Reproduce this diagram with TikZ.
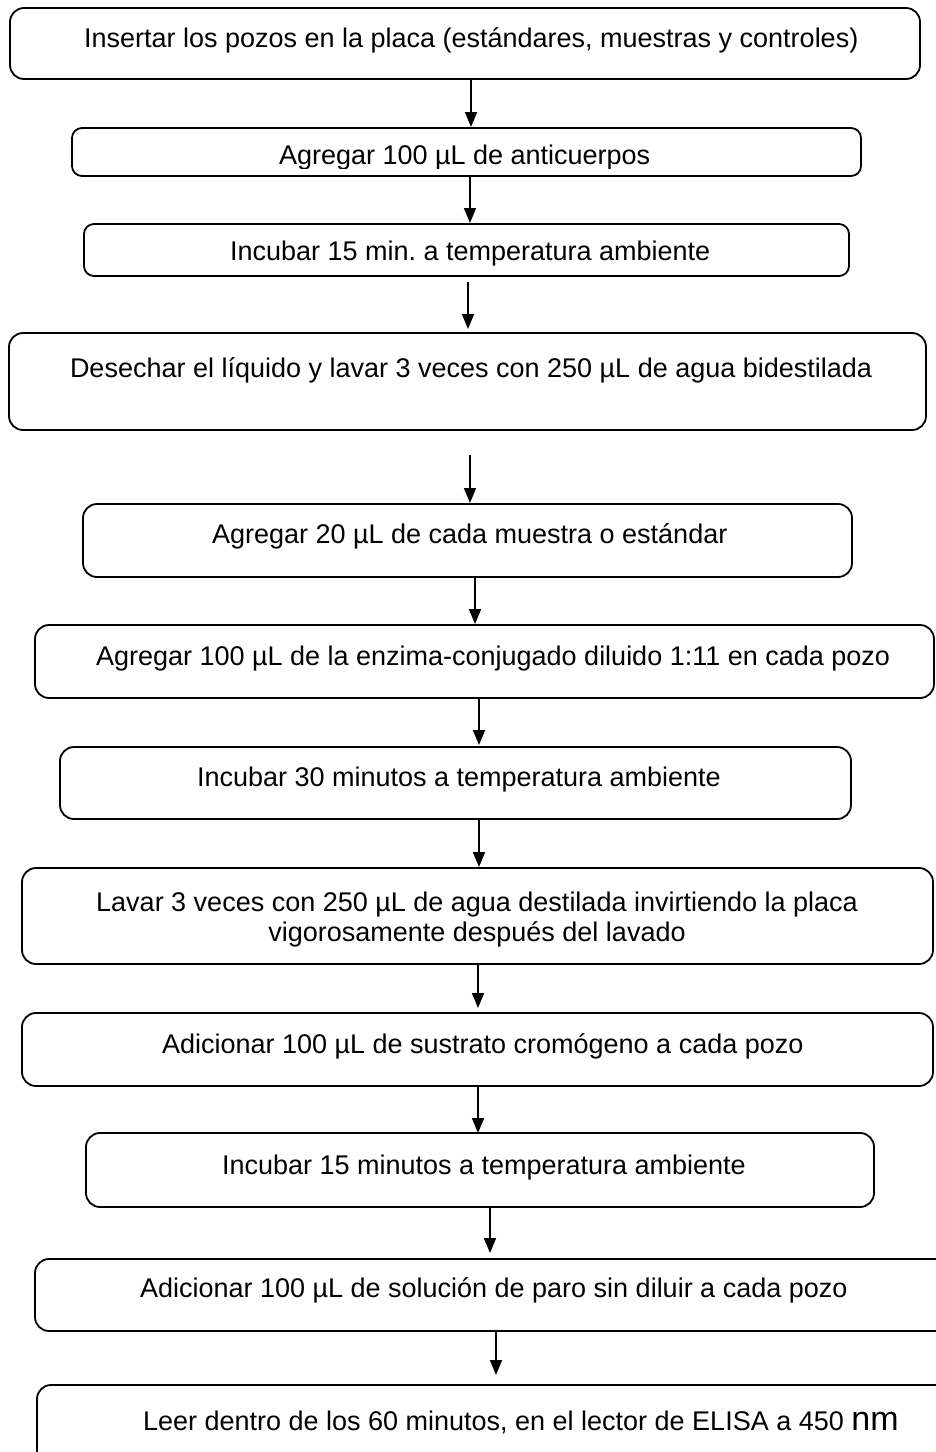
\documentclass[tikz,border=0pt]{standalone}
\usepackage{fontspec}
\setmainfont{Liberation Sans}
\usetikzlibrary{arrows.meta}
\frenchspacing
\tikzset{
  stepbox/.style={draw=black, line width=1.8pt, rounded corners=10pt, inner sep=0pt, outer sep=0pt, fill=none},
  bigbox/.style={stepbox, rounded corners=14pt},
  steptext/.style={anchor=base west, inner sep=0pt, outer sep=0pt, font=\fontsize{27}{30}\selectfont},
  arr/.style={line width=1.7pt, -{Triangle[length=15pt,width=12pt]}}
}
\begin{document}
\begin{tikzpicture}[x=1pt,y=-1pt]
\useasboundingbox (0,0) rectangle (936,1452);
\clip (0,0) rectangle (936,1452);
% boxes
\node[bigbox, minimum width=910pt, minimum height=71pt] (b1) at (465,43.5) {};
\node[stepbox, minimum width=789pt, minimum height=48pt] (b2) at (466.5,152) {};
\node[stepbox, minimum width=765pt, minimum height=52pt] (b3) at (466.5,250) {};
\node[bigbox, minimum width=917pt, minimum height=97pt] (b4) at (467.5,381.5) {};
\node[bigbox, minimum width=769pt, minimum height=73pt] (b5) at (467.5,540.5) {};
\node[bigbox, minimum width=899pt, minimum height=73pt] (b6) at (484.5,661.5) {};
\node[bigbox, minimum width=791pt, minimum height=72pt] (b7) at (455.5,783) {};
\node[bigbox, minimum width=911pt, minimum height=96pt] (b8) at (477.5,916) {};
\node[bigbox, minimum width=911pt, minimum height=73pt] (b9) at (477.5,1049.5) {};
\node[bigbox, minimum width=788pt, minimum height=74pt] (b10) at (480,1170) {};
\node[bigbox, minimum width=925pt, minimum height=72pt] (b11) at (497.5,1295) {};
\node[bigbox, minimum width=923pt, minimum height=90pt] (b12) at (498.5,1430) {};
% texts
\node[steptext] (t1) at (84,47) {Insertar los pozos en la placa (estándares, muestras y controles)};
\begin{scope}
\clip (0,0) rectangle (936,168);
\node[steptext] (t2) at (279,164) {Agregar 100 µL de anticuerpos};
\end{scope}
\node[steptext] (t3) at (230,260) {Incubar 15 min. a temperatura ambiente};
\node[steptext] (t4) at (70,377) {Desechar el líquido y lavar 3 veces con 250 µL de agua bidestilada};
\node[steptext] (t5) at (212,543) {Agregar 20 µL de cada muestra o estándar};
\node[steptext] (t6) at (96,665) {Agregar 100 µL de la enzima-conjugado diluido 1:11 en cada pozo};
\node[steptext] (t7) at (197,786) {Incubar 30 minutos a temperatura ambiente};
\node[steptext, anchor=base, align=center] (t8) at (477,941) {Lavar 3 veces con 250 µL de agua destilada invirtiendo la placa\\vigorosamente después del lavado};
\node[steptext] (t9) at (162,1053) {Adicionar 100 µL de sustrato cromógeno a cada pozo};
\node[steptext] (t10) at (222,1174) {Incubar 15 minutos a temperatura ambiente};
\node[steptext] (t11) at (140,1297) {Adicionar 100 µL de solución de paro sin diluir a cada pozo};
\node[steptext] (t12) at (143,1430) {Leer dentro de los 60 minutos, en el lector de ELISA a 450 {\fontsize{34}{36}\selectfont nm}};
% arrows
\draw[arr, shorten >=1pt] (b1.south -| 471,0) -- (b2.north -| 471,0);
\draw[arr, shorten >=1pt] (b2.south -| 470,0) -- (b3.north -| 470,0);
\draw[arr, shorten <=6pt, shorten >=4pt] (b3.south -| 468,0) -- (b4.north -| 468,0);
\draw[arr, shorten <=25pt, shorten >=1pt] (b4.south -| 470,0) -- (b5.north -| 470,0);
\draw[arr, shorten >=1pt] (b5.south -| 475,0) -- (b6.north -| 475,0);
\draw[arr, shorten >=2pt] (b6.south -| 479,0) -- (b7.north -| 479,0);
\draw[arr, shorten >=1pt] (b7.south -| 479,0) -- (b8.north -| 479,0);
\draw[arr, shorten >=5pt] (b8.south -| 478,0) -- (b9.north -| 478,0);
\draw[arr] (b9.south -| 478,0) -- (b10.north -| 478,0);
\draw[arr, shorten >=6pt] (b10.south -| 490,0) -- (b11.north -| 490,0);
\draw[arr, shorten >=10pt] (b11.south -| 496,0) -- (b12.north -| 496,0);
\end{tikzpicture}
\end{document}
